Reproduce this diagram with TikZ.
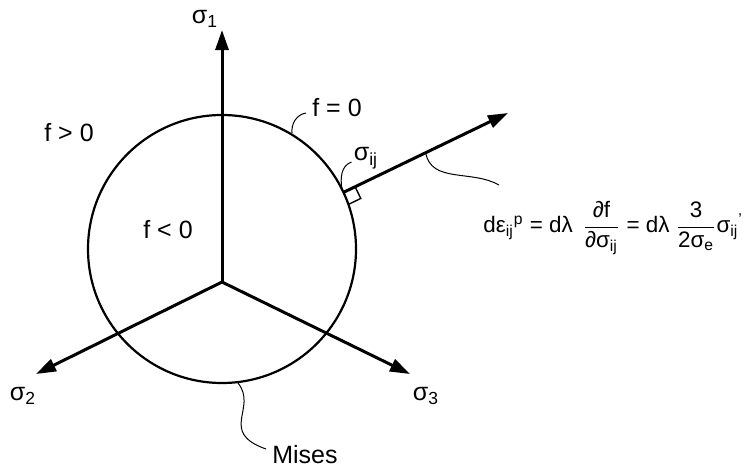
\documentclass[tikz,border=0pt]{standalone}
\usepackage{fontspec}
\setmainfont{Liberation Sans}
\usetikzlibrary{arrows.meta,positioning,calc}

\begin{document}
\begin{tikzpicture}[x=0.5pt, y=-0.5pt,
  axis/.style={-{Triangle[length=10pt,width=6.5pt]}, line width=1.5pt},
  yieldline/.style={line width=1.1pt},
  leader/.style={line width=0.5pt},
  lbl/.style={inner sep=0pt, font=\fontsize{12.5}{14}\selectfont}
]
\useasboundingbox (0,0) rectangle (750,467);
\coordinate (C) at (222,249);
\coordinate (O) at (222,282);
\coordinate (t1) at (222,30);
\coordinate (t2) at (36,374);
\coordinate (t3) at (410,374);
\coordinate (P) at (343.4,192.4);
\coordinate (N) at (508,113);
\coordinate (q0) at (292,133);
\coordinate (qs) at (342,189);
\coordinate (qm) at (238,383);
\draw[yieldline] (C) circle[radius=134];
\draw[axis] (O) -- (t1);
\draw[axis] (O) -- (t2);
\draw[axis] (O) -- (t3);
\draw[axis] (P) -- (N);
\coordinate (Pa) at ($(P)!6.5pt!(N)$);
\coordinate (Pb) at ($(P)!6.5pt!-90:(N)$);
\draw[leader, line width=0.7pt] (Pa) -- ($(Pa)+(Pb)-(P)$) -- (Pb);
\coordinate (qe) at ($(P)!0.5!(N)$);
\node[lbl] (s1) at (205,19) {σ\textsubscript{1}};
\node[lbl] (s2) at (23,396) {σ\textsubscript{2}};
\node[lbl] (s3) at (426,396) {σ\textsubscript{3}};
\node[lbl] (fpos) at (69,133) {f > 0};
\node[lbl] (fneg) at (168,230) {f < 0};
\node[lbl] (fz) at (337,108) {f = 0};
\node[lbl] (sij) at (366,158) {σ\textsubscript{ij}};
\node[lbl] (mises) at (305,455) {Mises};
\node[lbl, anchor=west, font=\fontsize{11.2}{14}\selectfont] (eq) at (483,228) {dε\textsubscript{ij}\textsuperscript{p} = dλ\, $\displaystyle\frac{\mbox{∂f}}{\mbox{∂σ\textsubscript{ij}}}$ = dλ $\displaystyle\frac{\mbox{3}}{\mbox{2σ\textsubscript{e}}}$σ\textsubscript{ij}\textsuperscript{'}};
\draw[leader] (q0) to[out=95, in=190] ([shift={(-3pt,-2.5pt)}]fz.west);
\draw[leader] (qs) to[out=100, in=200] ([shift={(-1pt,-2pt)}]sij.west);
\draw[leader] (qm) .. controls (258,408) and (218,432) .. ([shift={(-3pt,3pt)}]mises.west);
\draw[leader] (qe) to[out=-80, in=150] ([shift={(8pt,8pt)}]eq.north west);
\end{tikzpicture}
\end{document}
